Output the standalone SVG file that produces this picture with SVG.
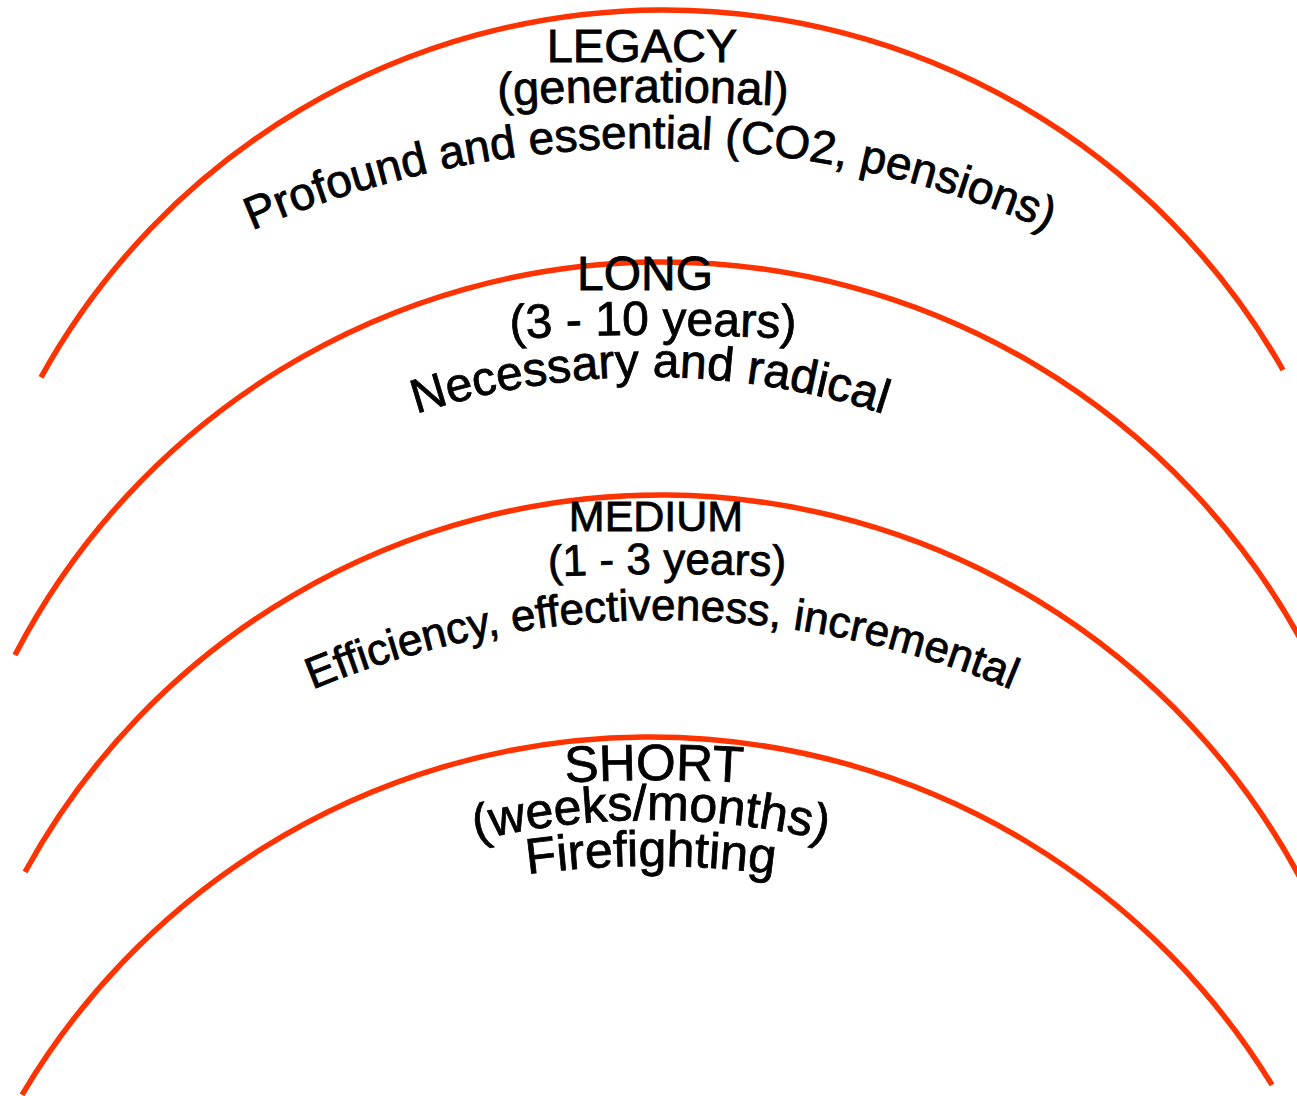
<svg xmlns="http://www.w3.org/2000/svg" xmlns:xlink="http://www.w3.org/1999/xlink" width="1297" height="1096" viewBox="0 0 1297 1096">
  <style>
    .arc { fill: none; stroke: #FF3300; stroke-width: 5.5; }
    .t { font-family: "Liberation Sans", Arial, sans-serif; fill: #000000; stroke: #000000; stroke-width: 0.8; text-anchor: middle; }
  </style>
  <defs>
    <path id="p-gen" d="M295,126.3 A2500,2500 0 0 1 991,126.3"/>
    <path id="p-prof" d="M150,282 A1000,1000 0 0 1 1150,282"/>
    <path id="p-310" d="M305,359.3 A2500,2500 0 0 1 1001,359.3"/>
    <path id="p-nec" d="M272.5,478.1 A755,755 0 0 1 1027.5,478.1"/>
    <path id="p-13" d="M319,598.3 A2500,2500 0 0 1 1015,598.3"/>
    <path id="p-eff" d="M207,741.9 A910,910 0 0 1 1117,741.9"/>
    <path id="p-short" d="M342.1,812.8 A1500,1500 0 0 1 965.9,812.8"/>
    <path id="p-wm" d="M394.5,865.2 A750,750 0 0 1 907.5,865.2"/>
    <path id="p-fire" d="M410.3,897.7 A930,930 0 0 1 891.7,897.7"/>
  </defs>
  <rect width="1297" height="1096" fill="#FFFFFF"/>
  <g id="bands">
    <path class="arc" d="M41,377.3 A712,712 0 0 1 1283,370"/>
    <path class="arc" d="M15,655 A729,729 0 0 1 1305,647.5"/>
    <path class="arc" d="M25,872 A725,725 0 0 1 1302,881.3"/>
    <path class="arc" d="M22,1094.8 A730,730 0 0 1 1272,1084.9"/>
  </g>
  <g id="legacy">
    <text class="t" x="642" y="62" font-size="47">LEGACY</text>
    <text class="t" font-size="47"><textPath href="#p-gen" startOffset="50%">(generational)</textPath></text>
    <text class="t" font-size="46"><textPath href="#p-prof" startOffset="50%">Profound and essential (CO2, pensions)</textPath></text>
  </g>
  <g id="long">
    <text class="t" x="645" y="290" font-size="48">LONG</text>
    <text class="t" font-size="48"><textPath href="#p-310" startOffset="50%">(3 - 10 years)</textPath></text>
    <text class="t" font-size="48"><textPath href="#p-nec" startOffset="50%">Necessary and radical</textPath></text>
  </g>
  <g id="medium">
    <text class="t" x="656" y="531" font-size="43">MEDIUM</text>
    <text class="t" font-size="44"><textPath href="#p-13" startOffset="50%">(1 - 3 years)</textPath></text>
    <text class="t" font-size="44"><textPath href="#p-eff" startOffset="50%">Efficiency, effectiveness, incremental</textPath></text>
  </g>
  <g id="short">
    <text class="t" font-size="51"><textPath href="#p-short" startOffset="50%">SHORT</textPath></text>
    <text class="t" font-size="50"><textPath href="#p-wm" startOffset="50%">(weeks/months)</textPath></text>
    <text class="t" font-size="50"><textPath href="#p-fire" startOffset="50%">Firefighting</textPath></text>
  </g>
</svg>
